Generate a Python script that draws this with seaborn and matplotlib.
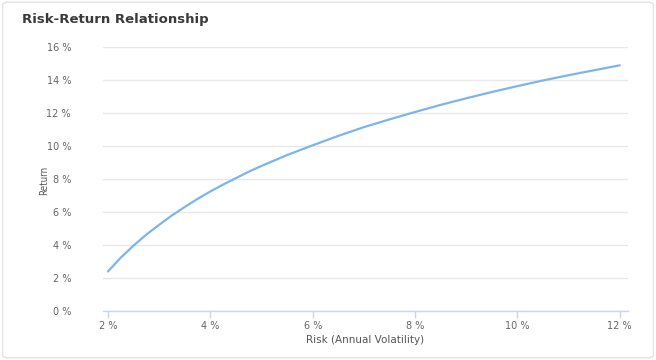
import matplotlib
matplotlib.use("Agg")
import matplotlib.pyplot as plt
from matplotlib.patches import FancyBboxPatch
import seaborn as sns
import pandas as pd

# Annual volatility (%) and expected return (%) along the curve
risk = [2.0, 2.25, 2.5, 2.75, 3.0, 3.25, 3.5, 3.75, 4.0, 4.25, 4.5, 4.75,
        5.0, 5.5, 6.0, 6.5, 7.0, 7.5, 8.0, 8.5, 9.0, 9.5, 10.0, 10.5,
        11.0, 11.5, 12.0]
ret = [2.4, 3.24, 3.97, 4.64, 5.23, 5.8, 6.31, 6.8, 7.25, 7.67, 8.06, 8.45,
       8.8, 9.46, 10.05, 10.62, 11.15, 11.62, 12.07, 12.5, 12.9, 13.28,
       13.64, 13.98, 14.3, 14.6, 14.9]
x_ticks = [2, 4, 6, 8, 10, 12]
y_ticks = [0, 2, 4, 6, 8, 10, 12, 14, 16]

df = pd.DataFrame({"risk": risk, "ret": ret})

sns.set_theme(style="white")
plt.rcParams["font.family"] = ["DejaVu Sans"]

fig = plt.figure(figsize=(6.56, 3.6), dpi=100)
fig.patch.set_facecolor("white")

# card border
card = FancyBboxPatch((0.004, 0.006), 0.992, 0.988,
                      boxstyle="round,pad=0,rounding_size=0.008",
                      transform=fig.transFigure, fill=False,
                      edgecolor="#e4e4e4", linewidth=1.0)
fig.patches.append(card)

ax = fig.add_axes([0.157, 0.136, 0.8, 0.733])

sns.lineplot(data=df, x="risk", y="ret", ax=ax, color="#7cb5ec",
             linewidth=1.6)
ax.lines[0].set_solid_joinstyle("round")

ax.set_xlim(1.902, 12.156)
ax.set_ylim(0, 16)
ax.set_xticks(x_ticks)
ax.set_yticks(y_ticks)
ax.set_xticklabels([f"{t} %" for t in x_ticks])
ax.set_yticklabels([f"{t} %" for t in y_ticks])

ax.grid(axis="y", color="#e8e8e8", linewidth=1.0)
ax.grid(axis="x", visible=False)
for s in ["top", "right", "left"]:
    ax.spines[s].set_visible(False)
ax.spines["bottom"].set_color("#ccd6eb")
ax.spines["bottom"].set_linewidth(1.0)

ax.tick_params(axis="x", which="major", bottom=True, length=5, width=1,
               color="#ccd6eb", labelsize=7, labelcolor="#666666", pad=2)
ax.tick_params(axis="y", which="major", left=False, labelsize=7,
               labelcolor="#666666", pad=17)

ax.set_xlabel("Risk (Annual Volatility)", fontsize=7.5, color="#555555",
              labelpad=3)
ax.set_ylabel("")
fig.text(0.068, 0.50, "Return", rotation=90, fontsize=7, color="#555555",
         ha="center", va="center", fontstretch="condensed")

fig.text(0.034, 0.945, "Risk-Return Relationship", fontsize=9.5,
         fontweight="bold", color="#3a3a3a", ha="left", va="center")

fig.savefig("out.png", dpi=100, facecolor="white")
